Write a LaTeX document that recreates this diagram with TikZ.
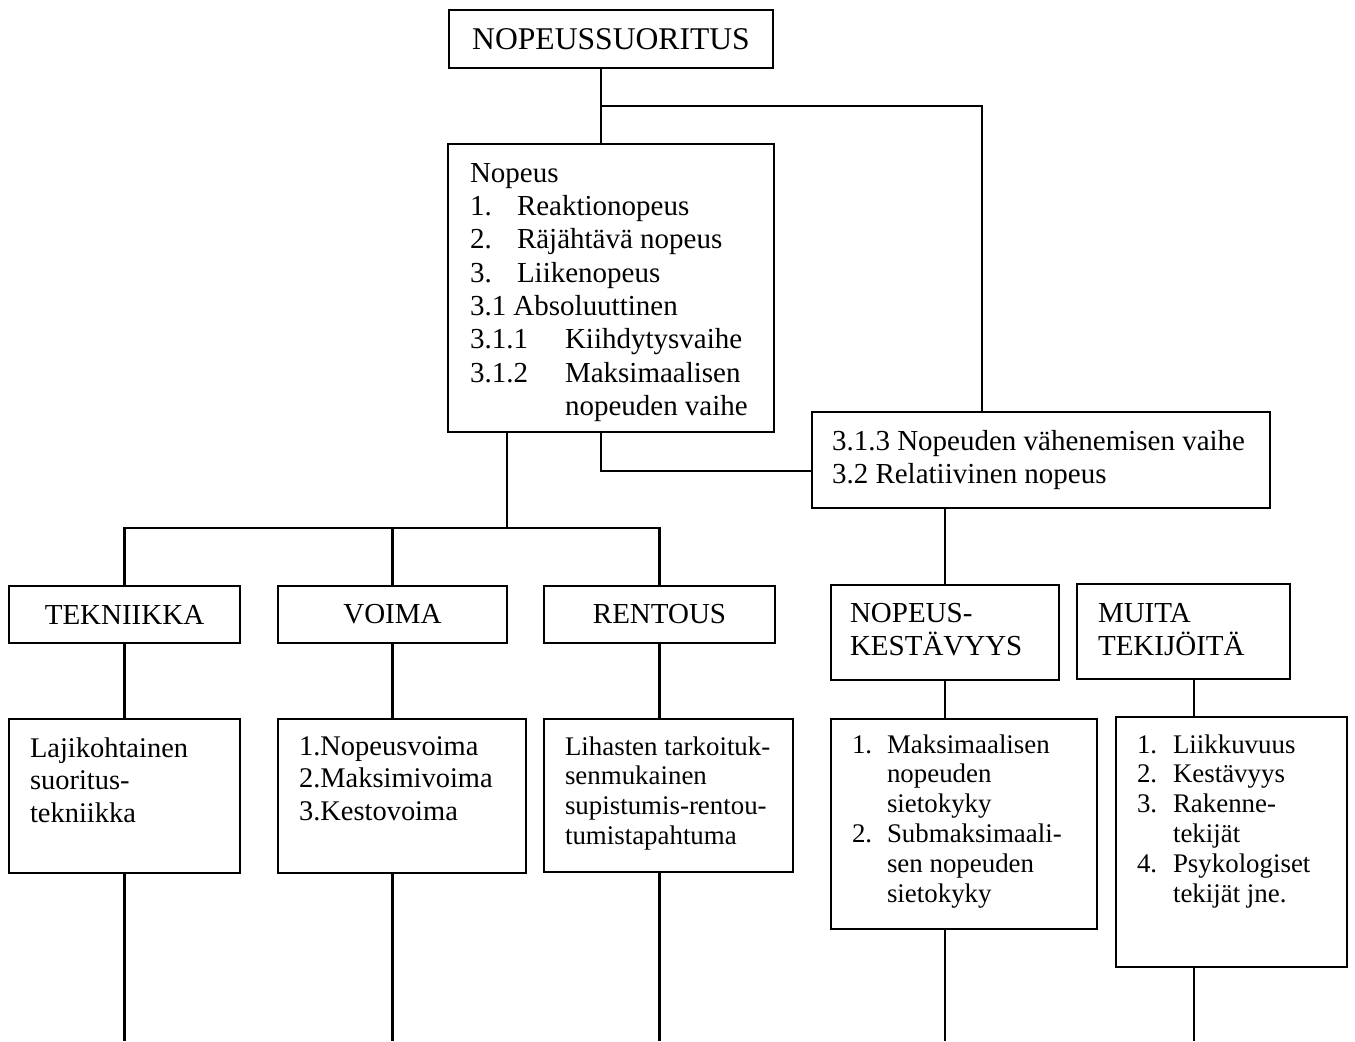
\documentclass[tikz,border=0pt]{standalone}
\usepackage{fontspec}
\setmainfont{Liberation Serif}

\newlength{\px}\setlength{\px}{0.02cm}
\newcommand{\bigtxt}{\fontsize{18}{21}\selectfont}
\newcommand{\midtxt}{\fontsize{16.5}{19}\selectfont}
\newcommand{\lowtxt}{\fontsize{16.2}{18.7}\selectfont}
\newcommand{\smltxt}{\fontsize{15.3}{17}\selectfont}
% laatikon sisältö: leveys, korkeus, 1. rivin perusviiva, vasen marginaali, teksti
\newcommand{\boxbody}[5]{\parbox[c][#2][t]{#1}{\raggedright\leftskip=#4\relax\rule{0pt}{#3}#5}}
\newcommand{\numcol}[2]{\makebox[#1][l]{#2}}

\begin{document}
\begin{tikzpicture}[x=0.02cm, y=-0.02cm, line width=1.4pt,
    box/.style={draw, line width=1.4pt, inner sep=0pt, outer sep=0pt},
    hdr/.style={box, align=center}]
        \useasboundingbox (0,0) rectangle (1355,1041);

        % --- Pääotsikko ja nopeuden jaottelu ---
        \node[hdr, font=\bigtxt, minimum width=6.48cm, minimum height=1.16cm] (ttl) at (611,39) {NOPEUSSUORITUS};

        \node[box, font=\midtxt] (nop) at (611,288) {\boxbody{6.52cm}{5.76cm}{0.76cm}{22\px}{%
            Nopeus\\
            \numcol{47\px}{1.}Reaktionopeus\\
            \numcol{47\px}{2.}Räjähtävä nopeus\\
            \numcol{47\px}{3.}Liikenopeus\\
            3.1 Absoluuttinen\\
            \numcol{95\px}{3.1.1}Kiihdytysvaihe\\
            \numcol{95\px}{3.1.2}Maksimaalisen\\
            \hspace*{95\px}nopeuden vaihe}};

        \node[box, font=\midtxt] (rel) at (1041,460) {\boxbody{9.16cm}{1.92cm}{0.76cm}{20\px}{%
            3.1.3 Nopeuden vähenemisen vaihe\\
            3.2 Relatiivinen nopeus}};

        % --- Tekijät ---
        \node[hdr, font=\midtxt, minimum width=4.62cm, minimum height=1.14cm] (tek) at (124.5,614.5) {TEKNIIKKA};
        \node[hdr, font=\midtxt, minimum width=4.58cm, minimum height=1.14cm] (voi) at (392.5,614.5) {VOIMA};
        \node[hdr, font=\midtxt, minimum width=4.62cm, minimum height=1.14cm] (ren) at (659.5,614.5) {RENTOUS};
        \node[box, font=\midtxt] (nke) at (945,632.5) {\boxbody{4.56cm}{1.9cm}{0.74cm}{19\px}{%
            NOPEUS-\\KESTÄVYYS}};
        \node[box, font=\midtxt] (mui) at (1183.5,631.5) {\boxbody{4.26cm}{1.9cm}{0.76cm}{21\px}{%
            MUITA\\TEKIJÖITÄ}};

        % --- Alalaatikot ---
        \node[box, font=\lowtxt] (laj) at (124.5,796) {\boxbody{4.62cm}{3.08cm}{0.76cm}{21\px}{%
            Lajikohtainen\\suoritus-\\tekniikka}};
        \node[box, font=\lowtxt] (vlist) at (402,796) {\boxbody{4.96cm}{3.08cm}{0.72cm}{21\px}{%
            1.Nopeusvoima\\2.Maksimivoima\\3.Kestovoima}};
        \node[box, font=\smltxt] (lih) at (668.5,795.5) {\boxbody{4.98cm}{3.06cm}{0.72cm}{21\px}{%
            Lihasten tarkoituk-\\senmukainen\\supistumis-rentou-\\tumistapahtuma}};
        \node[box, font=\smltxt] (nlist) at (964,824) {\boxbody{5.32cm}{4.2cm}{0.68cm}{21\px}{%
            \numcol{35\px}{1.}Maksimaalisen\\
            \hspace*{35\px}nopeuden\\
            \hspace*{35\px}sietokyky\\
            \numcol{35\px}{2.}Submaksimaali-\\
            \hspace*{35\px}sen nopeuden\\
            \hspace*{35\px}sietokyky}};
        \node[box, font=\smltxt] (mlist) at (1231.5,842) {\boxbody{4.62cm}{5cm}{0.72cm}{21\px}{%
            \numcol{36\px}{1.}Liikkuvuus\\
            \numcol{36\px}{2.}Kestävyys\\
            \numcol{36\px}{3.}Rakenne-\\
            \hspace*{36\px}tekijät\\
            \numcol{36\px}{4.}Psykologiset\\
            \hspace*{36\px}tekijät jne.}};

        % --- Haarautumiskohdat ---
        \coordinate (jA) at (601,106);
        \coordinate (jB) at (982,106);
        \coordinate (jC) at (601,471);
        \coordinate (jD) at (507,528);
        \coordinate (colM) at (1194,0);
        \coordinate (bot) at (0,1041);

        % --- Yhdysviivat ---
        \draw (ttl.south -| jA) -- (nop.north -| jA);
        \draw (jA) -- (jB) -- (rel.north -| jB);
        \draw (nop.south -| jC) -- (jC) -- (rel.west |- jC);
        \draw (nop.south -| jD) -- (jD);
        \draw (tek.north) |- (jD) -| (ren.north);
        \draw (voi.north) -- (voi.north |- jD);
        \draw (rel.south -| nke.north) -- (nke.north);

        \draw (tek.south) -- (laj.north);
        \draw (voi.south) -- (vlist.north -| voi.south);
        \draw (ren.south) -- (lih.north -| ren.south);
        \draw (nke.south) -- (nlist.north -| nke.south);
        \draw (mui.south -| colM) -- (mlist.north -| colM);

        % jatkuvat alas sivun reunaan
        \draw (laj.south) -- (laj.south |- bot);
        \draw (vlist.south -| voi.south) -- (voi.south |- bot);
        \draw (lih.south -| ren.south) -- (ren.south |- bot);
        \draw (nlist.south -| nke.south) -- (nke.south |- bot);
        \draw (mlist.south -| colM) -- (colM |- bot);
\end{tikzpicture}
\end{document}
